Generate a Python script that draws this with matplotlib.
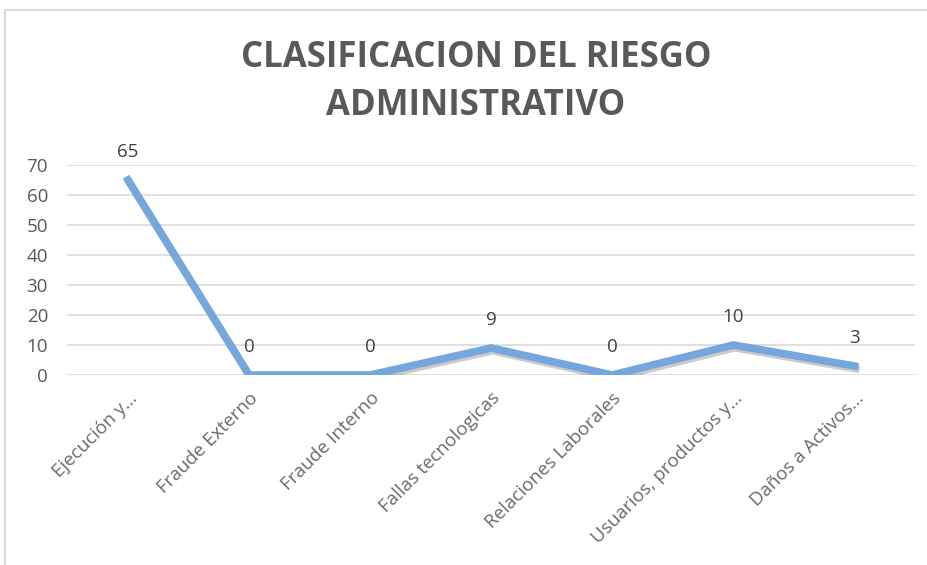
import matplotlib.pyplot as plt
import matplotlib.patheffects as pe
from matplotlib.patches import Rectangle

categorias = ["Ejecución y...", "Fraude Externo", "Fraude Interno", "Fallas tecnologicas",
              "Relaciones Laborales", "Usuarios, productos y...", "Daños a Activos..."]
valores = [65, 0, 0, 9, 0, 10, 3]
y_ticks = [0, 10, 20, 30, 40, 50, 60, 70]

plt.rcParams['font.family'] = ['Open Sans', 'DejaVu Sans']

gris = '#595959'
fig = plt.figure(figsize=(9.28, 5.65), dpi=100)
fig.patches.append(Rectangle((5 / 928, -0.1), 1.2, 1 - 10 / 565 + 0.1, transform=fig.transFigure,
                             fill=False, edgecolor='#d9d9d9', linewidth=1.5))

ax = fig.add_axes([67.5 / 928, 1 - 375 / 565, (915 - 67.5) / 928, 210 / 565])
x = list(range(len(categorias)))
ax.plot(x, valores, color='#75a7dc', linewidth=5.5, solid_joinstyle='miter', zorder=3,
        path_effects=[pe.SimpleLineShadow(offset=(1, -2), shadow_color='#555555', alpha=0.3),
                      pe.Normal()])

for xi, v in zip(x, valores):
    ax.annotate(str(v), (xi, v), xytext=(0, 14), textcoords='offset points',
                ha='center', va='bottom', fontsize=13.5, color='#404040')

ax.set_xlim(-0.5, len(categorias) - 0.5)
ax.set_ylim(0, 70)
ax.set_yticks(y_ticks)
ax.yaxis.grid(True, color='#d9d9d9', linewidth=1.2)
ax.set_axisbelow(True)
for s in ax.spines.values():
    s.set_visible(False)
ax.tick_params(axis='both', length=0, colors=gris, labelsize=13.5)
ax.tick_params(axis='y', pad=14)
ax.set_xticks(x)
ax.set_xticklabels(categorias, rotation=45, ha='right', rotation_mode='anchor', fontsize=13.5,
                   color='#6b6b6b')
ax.tick_params(axis='x', pad=10)

fig.text(476 / 928, 1 - 82 / 565, "CLASIFICACION DEL RIESGO\nADMINISTRATIVO", ha='center', va='center',
         fontsize=25, fontweight='bold', color=gris, linespacing=1.45)

plt.savefig("out.png", dpi=100)
